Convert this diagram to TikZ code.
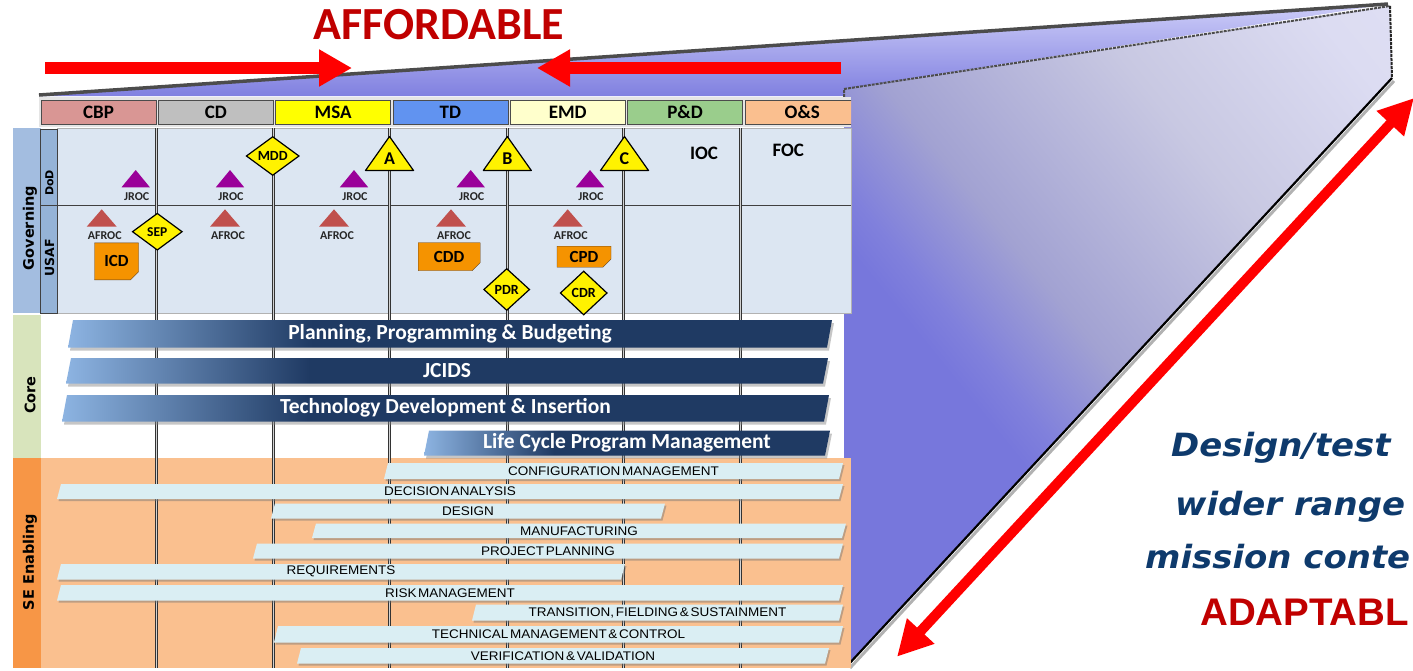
\documentclass[tikz,border=0pt]{standalone}
\usepackage{fontspec}
\setmainfont{Carlito}
\newfontfamily\dejavu{DejaVu Sans}
\newfontfamily\dejavuw[FakeStretch=1.06]{DejaVu Sans}
\newfontfamily\arialf{Liberation Sans}
\newfontfamily\arialn[FakeStretch=1.08,WordSpace=0.45]{Liberation Sans}
\usetikzlibrary{calc,shapes.geometric,shapes.misc,arrows.meta,shadows}

\definecolor{cbpc}{HTML}{D99694}
\definecolor{cdc}{HTML}{BFBFBF}
\definecolor{msac}{HTML}{FFFF00}
\definecolor{tdc}{HTML}{6193F0}
\definecolor{emdc}{HTML}{FFFFCC}
\definecolor{pdc}{HTML}{9ACD8C}
\definecolor{osc}{HTML}{FABF8F}
\definecolor{govc}{HTML}{A3BDE0}
\definecolor{subc}{HTML}{95B3D7}
\definecolor{panelc}{HTML}{DCE6F2}
\definecolor{corec}{HTML}{D8E4BC}
\definecolor{sec}{HTML}{F79646}
\definecolor{sebg}{HTML}{FAC08F}
\definecolor{sefill}{HTML}{DAEEF3}
\definecolor{notec}{HTML}{F59300}
\definecolor{jrocc}{HTML}{9A0099}
\definecolor{afrocc}{HTML}{C0504D}
\definecolor{adred}{HTML}{C00000}
\definecolor{navy}{HTML}{0E3A6C}
\definecolor{corel}{HTML}{8DB4E2}
\definecolor{cored}{HTML}{1F3A63}
\definecolor{foldA}{HTML}{7777DC}
\definecolor{foldA2}{HTML}{8080DC}
\definecolor{foldB}{HTML}{A2A2D2}
\definecolor{foldB2}{HTML}{C8C8E2}
\definecolor{foldC}{HTML}{DCDCF2}
\definecolor{foldD}{HTML}{E4E4F6}
\definecolor{lidT}{HTML}{CDCDF8}
\definecolor{lidB}{HTML}{8080E0}

\pgfdeclarehorizontalshading{corebar}{100bp}{color(0bp)=(corel); color(25bp)=(corel); color(41bp)=(cored); color(100bp)=(cored)}
\pgfdeclareverticalshading{foldside}{100bp}{color(0bp)=(foldA); color(37bp)=(foldA); color(40bp)=(foldA2); color(48bp)=(foldB); color(65bp)=(foldB2); color(80bp)=(foldC); color(100bp)=(foldD)}

\begin{document}
\begin{tikzpicture}[x=1pt,y=-1pt]

\tikzset{phase/.style={draw=gray!60!black, minimum width=115pt, minimum height=24.5pt, inner sep=0pt, font=\fontsize{19}{19}\selectfont\bfseries},
 sidelab/.style={font=\dejavu\bfseries\fontsize{14.5}{15}\selectfont, inner sep=0pt},
 sepline/.style={draw=black!80, double=gray!35, double distance=1.4pt, line width=.7pt},
 corebar/.style={shading=corebar, drop shadow={shadow xshift=2pt, shadow yshift=-3pt, fill=black!50, opacity=.45}},
 coretxt/.style={text=white, font=\fontsize{21.5}{22}\selectfont\bfseries, inner sep=0pt},
 sebar/.style={fill=sefill, drop shadow={shadow xshift=1.5pt, shadow yshift=-2pt, fill=black!55, opacity=.45}},
 setxt/.style={font=\arialn\fontsize{12.5}{13}\selectfont, inner sep=0pt},
 gate/.style={fill=yellow, draw=black, line width=1.2pt, line join=round},
 gatetxt/.style={font=\fontsize{18}{18}\selectfont\bfseries, inner sep=0pt},
 review/.style={diamond, fill=yellow, draw=black, line width=1.2pt, inner sep=0pt, font=\fontsize{14}{14}\selectfont\bfseries},
 note/.style={chamfered rectangle, chamfered rectangle corners=south east, chamfered rectangle xsep=4pt, chamfered rectangle ysep=4pt, fill=notec, draw=brown!50!black, inner sep=0pt, font=\fontsize{17}{17}\selectfont\bfseries},
 small/.style={font=\fontsize{12}{12}\selectfont\bfseries, text=black!85, inner sep=0pt},
 redarrow/.style={draw=red, line width=12pt, -{Triangle[length=33pt,width=35pt]}},
 bluetxt/.style={anchor=base west, text=navy, font=\dejavuw\bfseries\itshape\fontsize{32}{32}\selectfont, inner sep=0pt}}

\useasboundingbox (0,0) rectangle (1413,670);
\clip (0,0) rectangle (1413,670);

% folded view
\shade[shading=foldside, shading angle=-51] (844,89) -- (1390,6) -- (1392,78) -- (848,665) -- (844,665) -- cycle;
\shade[top color=lidT, bottom color=lidB] (39,96) -- (1388,4) -- (844,89) -- (844,96) -- cycle;
\draw[gray!60!black, line width=3.5pt] (39,95) -- (1388,4);
\draw[gray!60!black, line width=2pt, dash pattern=on 3pt off 1pt] (844,97) -- (844,89) -- (1390,6);
\draw[black!85, line width=2pt, dash pattern=on 3pt off 1pt] (1390,6) -- (1392,78);
\draw[gray!60, line width=3pt] (1394,81) -- (850,668);
\draw[black, line width=2.2pt] (1392,78) -- (848,665);

% phases
\begin{scope}
\clip (0,0) rectangle (851,670);
\fill[gray!20] (39,96.5) rectangle (851,126.5);
\foreach \lab/\col [count=\i from 0] in {CBP/cbpc,CD/cdc,MSA/msac,TD/tdc,EMD/emdc,P\&D/pdc,O\&S/osc}
  \node[phase, fill=\col] (ph\i) at (98.5+117.3*\i,112.3) {\lab};
\end{scope}

% governing
\fill[govc] (13.3,128.3) rectangle (41,313);
\filldraw[fill=panelc, draw=gray!60] (57.5,128.3) rectangle (851,313);
\filldraw[fill=subc, draw=gray!50!black] (40.5,129.3) rectangle (57.5,312.7);
\draw[gray!50!black] (40.5,205) -- (851,205);
\node[sidelab, rotate=90] (gov) at (30,228) {Governing};
\node[sidelab, rotate=90, font=\dejavu\bfseries\fontsize{11}{11}\selectfont] (dod) at (49.5,183) {DoD};
\node[sidelab, rotate=90, font=\dejavu\bfseries\fontsize{12.5}{12.5}\selectfont] (usaf) at (49.5,258) {USAF};

% core and SE enabling
\fill[corec] (13.3,315) rectangle (41,457.5);
\node[sidelab, rotate=90] (core) at (30,395) {Core};
\fill[sec] (13.3,458) rectangle (41,668);
\fill[sebg] (41,458) rectangle (851,668);
\node[sidelab, rotate=90] (seen) at (30,562) {SE Enabling};

\foreach \x in {156.7,273.3,389.5,507.3,623.7,740.3}
  \draw[sepline] (\x,128.3) -- (\x,668);

\foreach \xa/\xb/\ya/\yb/\t [count=\i] in {68/832/320/347.5/{Planning, Programming \& Budgeting},66/828/358/383.5/JCIDS,62/829/395/421.5/{Technology Development \& Insertion},424/830/430.5/455.5/{Life Cycle Program Management}}
{
\shade[corebar] (\xa,\yb) -- (\xa+5,\ya) -- (\xb,\ya) -- (\xb-5,\yb) -- cycle;
\node[coretxt] (core\i) at ($(\xa,\ya)!.5!(\xb,\yb)$) {\t};
}

\foreach \xa/\xb/\ya/\yb/\t [count=\i] in {384/843/463/479/CONFIGURATION MANAGEMENT,57/843/484/499/DECISION ANALYSIS,271/665/503.5/518.5/DESIGN,312/846/523.5/538/MANUFACTURING,253/843/543.5/558.5/PROJECT PLANNING,57/625/564/579.5/REQUIREMENTS,57/843/585/600.5/RISK MANAGEMENT,472/843/604.5/620.5/{TRANSITION, FIELDING \& SUSTAINMENT},274/843/626/642.5/TECHNICAL MANAGEMENT \& CONTROL,297/829/648/663.5/VERIFICATION \& VALIDATION}
{
\fill[sebar] (\xa,\yb) -- (\xa+4,\ya) -- (\xb,\ya) -- (\xb-4,\yb) -- cycle;
\node[setxt] (se\i) at ($(\xa,\ya)!.5!(\xb,\yb)$) {\t};
}

% milestones and reviews
\foreach \x/\m in {389.5/A,507.3/B,624.5/C}
{
\filldraw[gate] (\x,136.5) -- (\x+24,170.5) -- (\x-24,170.5) -- cycle;
\node[gatetxt] (ms\m) at (\x,159) {\m};
}
\foreach \x [count=\i] in {135.7,230,354,470.7,590}
{
\fill[jrocc] (\x,170) -- (\x+14.2,187.3) -- (\x-14.2,187.3) -- cycle;
\node[small] (jroc\i) at (\x+1,196.5) {JROC};
}
\foreach \x [count=\i] in {101.7,225,334,451,567.7}
{
\fill[afrocc] (\x,209.3) -- (\x+15,226.7) -- (\x-15,226.7) -- cycle;
\node[small] (afroc\i) at (\x+3,235.5) {AFROC};
}

\node[review, minimum width=53pt, minimum height=36pt] (mdd) at (272.7,156) {MDD};
\node[review, minimum width=50pt, minimum height=37pt, font=\fontsize{13.5}{13.5}\selectfont\bfseries] (sep) at (157.3,231.7) {SEP};
\node[review, minimum width=46pt, minimum height=42pt] (pdr) at (506.7,289.5) {PDR};
\node[review, minimum width=47pt, minimum height=44pt] (cdr) at (583.7,293) {CDR};

\node[note, minimum width=44pt, minimum height=37pt] (icd) at (116.5,261.3) {ICD};
\node[note, minimum width=62pt, minimum height=28pt] (cdd) at (449.2,256.7) {CDD};
\node[note, minimum width=54pt, minimum height=21pt] (cpd) at (584,256.7) {CPD};

\node[gatetxt, font=\fontsize{19}{19}\selectfont\bfseries] (ioc) at (704,153.3) {IOC};
\node[gatetxt, font=\fontsize{19}{19}\selectfont\bfseries] (foc) at (788.3,150) {FOC};

% affordable
\coordinate (affl) at (45,68);
\coordinate (affm) at (352,68);
\coordinate (affr) at (841,68);
\coordinate (affn) at (537,68);
\draw[redarrow] (affl) -- (affm);
\draw[redarrow] (affr) -- (affn);
\node[anchor=base, text=adred, font=\fontsize{46}{46}\selectfont\bfseries, inner sep=0pt] (afford) at (439,39.3) {AFFORDABLE};

% adaptable
\coordinate (adlo) at (897,656.7);
\coordinate (adhi) at (1414,98);
\draw[draw=red, line width=10pt, {Triangle[length=35pt,width=35pt]}-{Triangle[length=35pt,width=35pt]}] (adlo) -- (adhi);
\node[bluetxt] (dt1) at (1171,456.7) {Design/test};
\node[bluetxt] (dt2) at (1175,515) {wider range};
\node[bluetxt] (dt3) at (1145,568.3) {mission conte};
\node[anchor=base west, text=adred, font=\arialf\bfseries\fontsize{38.5}{38.5}\selectfont, inner sep=0pt] (adapt) at (1200,625) {ADAPTABL};

\end{tikzpicture}
\end{document}
